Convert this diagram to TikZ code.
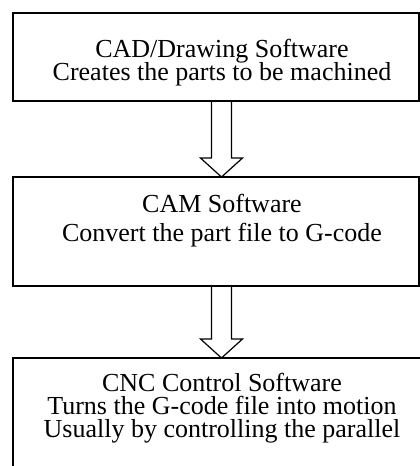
\documentclass[tikz,border=0pt]{standalone}
\usepackage{fontspec}
\setmainfont{Liberation Serif}
\usetikzlibrary{calc}

\tikzset{
  stagebox/.style={draw,line width=1.2pt,minimum width=406pt,inner sep=0pt,outer sep=0pt},
  stagetext/.style={anchor=base,align=center,inner sep=0pt,
    font=\fontsize{26}{23}\selectfont},
  hollow/.style={draw,line width=1.2pt,line join=miter}
}
\newcommand{\flowarrow}[2]{%
  \coordinate (ax) at ($(#1.south)+(5.5,0)$);
  \coordinate (ay) at (ax |- #2.north);
  \draw[hollow] ($(ax)+(-10,0)$) -- ($(ay)+(-10,19)$) -- ++(-11,0)
    -- (ay) -- ($(ay)+(21,19)$) -- ++(-11,0) -- ($(ax)+(10,0)$);}

\begin{document}
\setlength{\lineskiplimit}{-50pt}
\begin{tikzpicture}[x=1pt,y=1pt]
\useasboundingbox (0,0) rectangle (420,-466);
\clip (0,0) rectangle (420,-466);
\node[stagebox,minimum height=88pt] (cad) at (216,-57) {};
\node[stagebox,minimum height=109pt] (cam) at (216,-231.5) {};
\node[stagebox,minimum width=440pt,minimum height=140pt,anchor=north west] (cnc) at (13,-358) {};
\node[stagetext] (cadtext) at (222,-80) {CAD/Drawing Software\\Creates the parts to be machined};
\node[stagetext,font=\fontsize{26}{28.5}\selectfont] (camtext) at (222,-241) {CAM Software\\Convert the part file to G-code};
\node[stagetext] (cnctext) at (222,-437) {CNC Control Software\\Turns the G-code file into motion\\Usually by controlling the parallel};
\flowarrow{cad}{cam}
\flowarrow{cam}{cnc}
\end{tikzpicture}
\end{document}
